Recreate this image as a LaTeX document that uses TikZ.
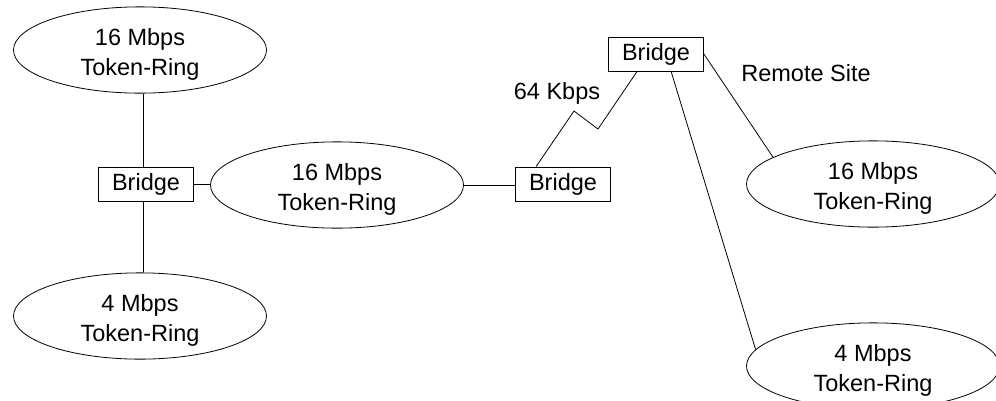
\documentclass[tikz,border=0pt]{standalone}
\usepackage{fontspec}
\setmainfont{Liberation Sans}
\usetikzlibrary{shapes.geometric,calc}
\begin{document}
\begin{tikzpicture}[x=1pt,y=-1pt,
  font=\fontsize{23.5}{30}\selectfont,
  every path/.style={line width=0.8pt},
  ring/.style={ellipse, draw, minimum width=253pt, minimum height=84pt, inner sep=0pt, align=center, text height=56pt, text depth=5pt},
  bridgebox/.style={draw, minimum width=95pt, minimum height=34pt, inner sep=0pt},
  lbl/.style={inner sep=0pt}]
\useasboundingbox (0,0) rectangle (996,400);
% rings
\node[ring] (e1) at (140,50) {16 Mbps\\Token-Ring};
\node[ring] (e2) at (337,185) {16 Mbps\\Token-Ring};
\node[ring] (e3) at (140,316) {4 Mbps\\Token-Ring};
\node[ring] (e4) at (873,184) {16 Mbps\\Token-Ring};
\node[ring] (e5) at (873,366) {4 Mbps\\Token-Ring};
% bridges
\node[bridgebox] (b1) at (146,184) {Bridge};
\node[bridgebox] (b2) at (563,184) {Bridge};
\node[bridgebox] (b3) at (656,54) {Bridge};
% labels
\node[lbl] (k64) at (557,93) {64 Kbps};
\node[lbl] (rs) at (806,73) {Remote Site};
% connectors
\draw ($(b1.north)+(-3,0)$) -- (e1.south -| {$(b1.north)+(-3,0)$});
\draw ($(b1.south)+(-3,0)$) -- (e3.north -| {$(b1.south)+(-3,0)$});
\draw (b1.east) -- (e2.west |- b1.east);
\draw (e2.east) -- (b2.west |- e2.east);
\coordinate (z1) at (574,111);
\coordinate (z2) at (598,129);
\draw ($(b2.north west)+(21,0)$) -- (z1) -- (z2) -- ($(b3.south west)+(29,0)$);
\draw (b3.east) -- (e4.165);
\draw ($(b3.south west)+(63,0)$) -- (e5.172);
\end{tikzpicture}
\end{document}
